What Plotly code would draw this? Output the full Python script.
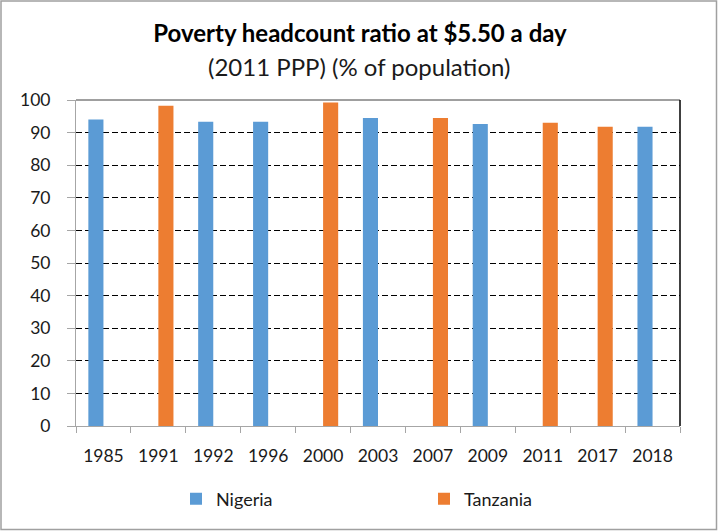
import plotly.graph_objects as go

years = ["1985", "1991", "1992", "1996", "2000", "2003", "2007", "2009", "2011", "2017", "2018"]
nigeria = [94.0, None, 93.3, 93.3, None, 94.5, None, 92.6, None, None, 91.8]
tanzania = [None, 98.2, None, None, 99.2, None, 94.5, None, 93.0, 91.8, None]
y_ticks = list(range(0, 101, 10))

W, H = 718, 531
L, R, T, B = 76, 38, 100, 105
pw, ph = W - L - R, H - T - B

def px(x):
    return (x - L) / pw

def py(y):
    return (H - B - y) / ph

FONT = "Lato"

fig = go.Figure()
fig.add_trace(go.Bar(name="Nigeria", x=years, y=nigeria, marker_color="#5B9BD5", marker_line_width=0))
fig.add_trace(go.Bar(name="Tanzania", x=years, y=tanzania, marker_color="#ED7D31", marker_line_width=0))

fig.update_layout(
    width=W, height=H,
    margin=dict(l=L, r=R, t=T, b=B),
    paper_bgcolor="white", plot_bgcolor="white",
    barmode="group", bargap=0.45, bargroupgap=0,
    font=dict(family=FONT, size=17, color="#1a1a1a"),
    title=dict(text="<b>Poverty headcount ratio at $5.50 a day</b>", x=360 / W,
               xanchor="center", y=1 - 34 / H, yanchor="middle", yref="container",
               font=dict(size=24, color="#000")),
    showlegend=True,
    legend=dict(orientation="h", x=px(176), xanchor="left", y=py(499), yanchor="middle",
                entrywidth=203, font=dict(size=18), bgcolor="rgba(0,0,0,0)"),
    xaxis=dict(type="category", showline=True, linecolor="#a6a6a6", linewidth=1,
               ticks="outside", tickson="boundaries", ticklen=6, tickcolor="#a6a6a6",
               ticklabelstandoff=14, showgrid=False, tickfont=dict(size=17.5)),
    yaxis=dict(range=[0, 100], tickvals=y_ticks, showline=True, linecolor="#a6a6a6", linewidth=1,
               ticks="outside", ticklen=8, tickcolor="#a6a6a6", ticklabelstandoff=13,
               showgrid=True, gridcolor="#000", gridwidth=1, griddash="6px,3px",
               zeroline=False, tickfont=dict(size=17.5)),
    shapes=[
        dict(type="line", xref="paper", yref="paper", x0=0, x1=1, y0=1, y1=1,
             line=dict(color="#404040", width=1)),
        dict(type="line", xref="paper", yref="paper", x0=1, x1=1, y0=0, y1=1,
             line=dict(color="#000", width=1.5)),
        dict(type="rect", xref="paper", yref="paper", x0=px(1), x1=px(716.5), y0=py(529.5), y1=py(1),
             line=dict(color="#a0a0a0", width=1.5)),
    ],
    annotations=[
        dict(text="(2011 PPP) (% of population)", xref="paper", yref="paper",
             x=px(359), y=py(67), xanchor="center", yanchor="middle", showarrow=False,
             font=dict(size=24, color="#1a1a1a")),
    ],
)

fig.write_html("out.html")
